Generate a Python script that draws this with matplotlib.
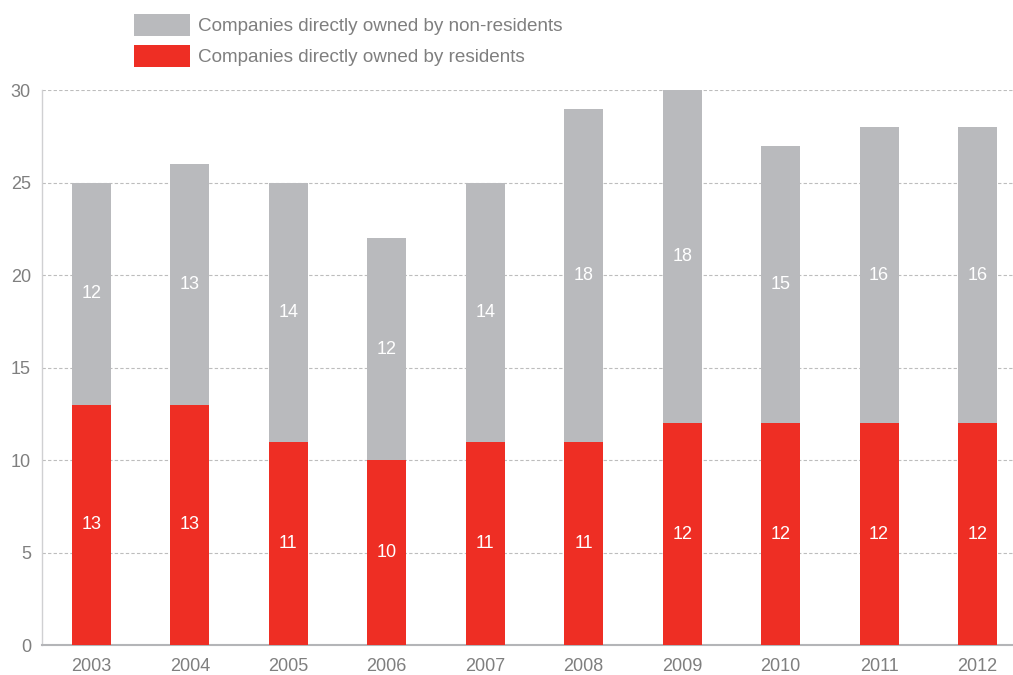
import matplotlib.pyplot as plt
import numpy as np

plt.rcParams["font.family"] = ["Liberation Sans", "DejaVu Sans"]

# Number of companies per year, split by who owns them directly
years = ["2003", "2004", "2005", "2006", "2007", "2008", "2009", "2010", "2011", "2012"]
residents = [13, 13, 11, 10, 11, 11, 12, 12, 12, 12]
non_residents = [12, 13, 14, 12, 14, 18, 18, 15, 16, 16]

RED = "#EE2E24"
GREY = "#B9BABD"
TEXT = "#7F7F7F"

fig = plt.figure(figsize=(10.13, 6.75), dpi=100)
ax = fig.add_axes([0.0415, 0.0444, 0.9585, 0.8222])

x = np.arange(len(years))
width = 0.396

bars_res = ax.bar(x, residents, width, color=RED, zorder=3,
                  label="Companies directly owned by residents")
bars_non = ax.bar(x, non_residents, width, bottom=residents, color=GREY, zorder=3,
                  label="Companies directly owned by non-residents")

# value labels in the middle of each segment
for xi, r, n in zip(x, residents, non_residents):
    ax.text(xi, r / 2, str(r), ha="center", va="center", color="white",
            fontsize=13, zorder=4)
    ax.text(xi, r + n / 2, str(n), ha="center", va="center", color="white",
            fontsize=13, zorder=4)

ax.set_xlim(-0.5, 9.36)
ax.set_ylim(0, 30)
ax.set_yticks(range(0, 31, 5))
ax.set_xticks(x)
ax.set_xticklabels(years)

ax.yaxis.grid(True, linestyle=(0, (3, 2)), color="#BDBDBD", linewidth=0.8, zorder=0)
ax.tick_params(axis="both", length=0, labelsize=13, colors=TEXT)
ax.tick_params(axis="y", pad=8)
ax.tick_params(axis="x", pad=9)

for side in ["top", "right"]:
    ax.spines[side].set_visible(False)
ax.spines["left"].set_color("#D0D0D2")
ax.spines["left"].set_linewidth(1.0)
ax.spines["bottom"].set_color("#B4B5B8")
ax.spines["bottom"].set_linewidth(1.5)

fig.legend(handles=[bars_non, bars_res],
           loc="upper left", bbox_to_anchor=(0.132, 0.9795),
           frameon=False, fontsize=13.6, labelcolor=TEXT,
           handlelength=2.96, handleheight=1.4, handletextpad=0.42,
           labelspacing=0.5, borderaxespad=0, borderpad=0)

fig.savefig("out.png", dpi=100)
